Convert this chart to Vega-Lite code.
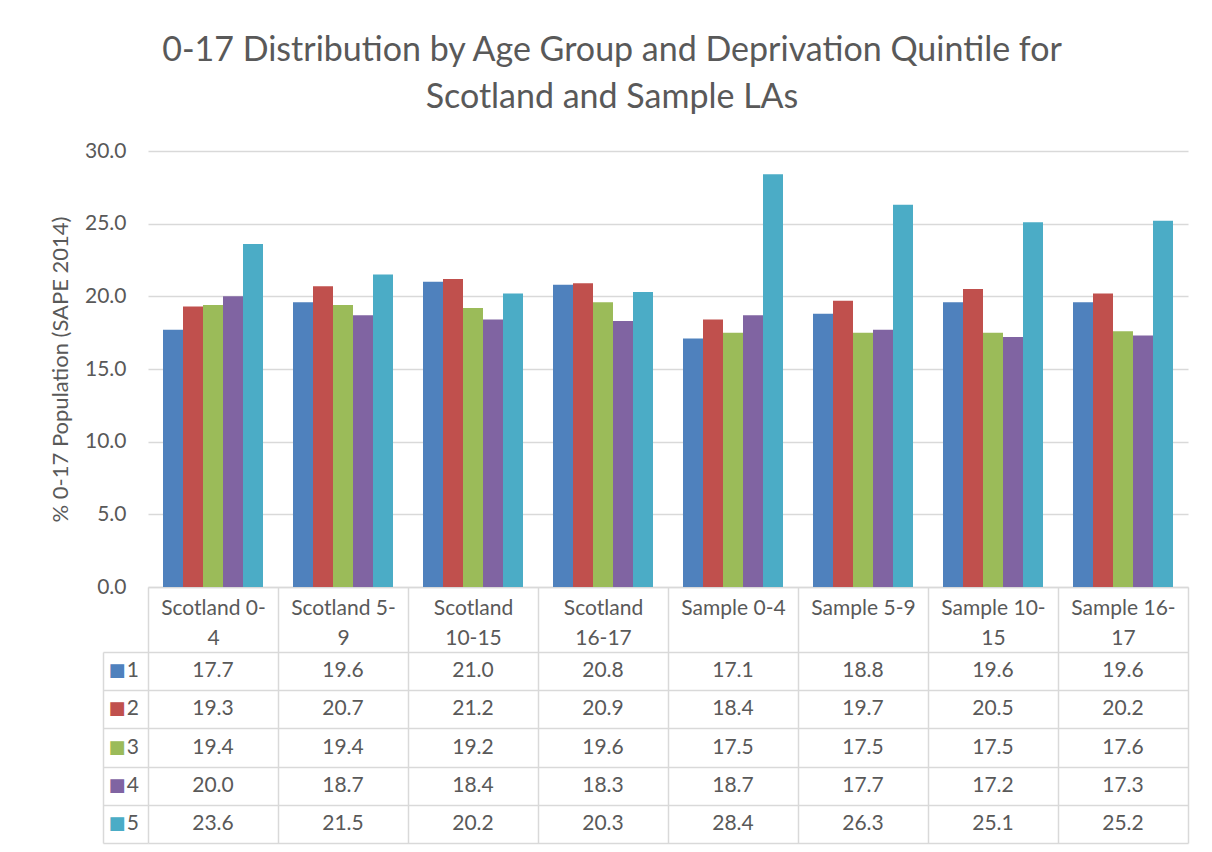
{
  "$schema": "https://vega.github.io/schema/vega-lite/v6.json",
  "background": "white",
  "autosize": {"type": "none"},
  "padding": {"left": 148, "top": 151, "right": 24, "bottom": 9},
  "width": 1040,
  "height": 692,
  "title": {
    "text": ["0-17 Distribution by Age Group and Deprivation Quintile for", "Scotland and Sample LAs"],
    "font": "Lato",
    "fontSize": 34,
    "fontWeight": "normal",
    "color": "#595959",
    "lineHeight": 47,
    "anchor": "middle",
    "dx": -56,
    "offset": 25
  },
  "datasets": {
    "pop": [
      {"group": "Scotland 0-4", "quintile": "1", "pct": 17.7},
      {"group": "Scotland 0-4", "quintile": "2", "pct": 19.3},
      {"group": "Scotland 0-4", "quintile": "3", "pct": 19.4},
      {"group": "Scotland 0-4", "quintile": "4", "pct": 20.0},
      {"group": "Scotland 0-4", "quintile": "5", "pct": 23.6},
      {"group": "Scotland 5-9", "quintile": "1", "pct": 19.6},
      {"group": "Scotland 5-9", "quintile": "2", "pct": 20.7},
      {"group": "Scotland 5-9", "quintile": "3", "pct": 19.4},
      {"group": "Scotland 5-9", "quintile": "4", "pct": 18.7},
      {"group": "Scotland 5-9", "quintile": "5", "pct": 21.5},
      {"group": "Scotland 10-15", "quintile": "1", "pct": 21.0},
      {"group": "Scotland 10-15", "quintile": "2", "pct": 21.2},
      {"group": "Scotland 10-15", "quintile": "3", "pct": 19.2},
      {"group": "Scotland 10-15", "quintile": "4", "pct": 18.4},
      {"group": "Scotland 10-15", "quintile": "5", "pct": 20.2},
      {"group": "Scotland 16-17", "quintile": "1", "pct": 20.8},
      {"group": "Scotland 16-17", "quintile": "2", "pct": 20.9},
      {"group": "Scotland 16-17", "quintile": "3", "pct": 19.6},
      {"group": "Scotland 16-17", "quintile": "4", "pct": 18.3},
      {"group": "Scotland 16-17", "quintile": "5", "pct": 20.3},
      {"group": "Sample 0-4", "quintile": "1", "pct": 17.1},
      {"group": "Sample 0-4", "quintile": "2", "pct": 18.4},
      {"group": "Sample 0-4", "quintile": "3", "pct": 17.5},
      {"group": "Sample 0-4", "quintile": "4", "pct": 18.7},
      {"group": "Sample 0-4", "quintile": "5", "pct": 28.4},
      {"group": "Sample 5-9", "quintile": "1", "pct": 18.8},
      {"group": "Sample 5-9", "quintile": "2", "pct": 19.7},
      {"group": "Sample 5-9", "quintile": "3", "pct": 17.5},
      {"group": "Sample 5-9", "quintile": "4", "pct": 17.7},
      {"group": "Sample 5-9", "quintile": "5", "pct": 26.3},
      {"group": "Sample 10-15", "quintile": "1", "pct": 19.6},
      {"group": "Sample 10-15", "quintile": "2", "pct": 20.5},
      {"group": "Sample 10-15", "quintile": "3", "pct": 17.5},
      {"group": "Sample 10-15", "quintile": "4", "pct": 17.2},
      {"group": "Sample 10-15", "quintile": "5", "pct": 25.1},
      {"group": "Sample 16-17", "quintile": "1", "pct": 19.6},
      {"group": "Sample 16-17", "quintile": "2", "pct": 20.2},
      {"group": "Sample 16-17", "quintile": "3", "pct": 17.6},
      {"group": "Sample 16-17", "quintile": "4", "pct": 17.3},
      {"group": "Sample 16-17", "quintile": "5", "pct": 25.2}
    ]
  },
  "data": {"name": "pop"},
  "resolve": {"scale": {"y": "independent"}, "axis": {"y": "independent"}},
  "layer": [
    {
      "mark": {"type": "bar"},
      "encoding": {
        "x": {
          "field": "group",
          "type": "nominal",
          "sort": null,
          "scale": {"type": "band", "paddingInner": 0, "paddingOuter": 0},
          "axis": {
            "orient": "bottom",
            "offset": -256,
            "title": null,
            "domain": true,
            "domainColor": "#d9d9d9",
            "domainWidth": 1.5,
            "ticks": true,
            "tickBand": "extent",
            "tickSize": 256,
            "tickColor": "#d9d9d9",
            "tickWidth": 1.5,
            "labelAngle": 0,
            "labelAlign": "center",
            "labelBaseline": "middle",
            "labelPadding": -235,
            "labelLineHeight": 30,
            "labelFontSize": 21,
            "labelOverlap": false,
            "labelBound": false,
            "labelFlush": false,
            "labelExpr": "!isValid(datum.value) ? '' : (datum.value == 'Scotland 10-15' || datum.value == 'Scotland 16-17') ? split(datum.value, ' ') : length(datum.value) > 10 ? [slice(datum.value, 0, lastindexof(datum.value, '-') + 1), slice(datum.value, lastindexof(datum.value, '-') + 1)] : datum.value"
          }
        },
        "xOffset": {
          "field": "quintile",
          "type": "nominal",
          "scale": {"paddingInner": 0, "paddingOuter": 0.75}
        },
        "y": {
          "field": "pct",
          "type": "quantitative",
          "scale": {"domain": [0, 30], "range": [436, 0]},
          "axis": {
            "orient": "left",
            "values": [0, 5, 10, 15, 20, 25, 30],
            "format": ".1f",
            "grid": true,
            "gridColor": "#d9d9d9",
            "gridWidth": 1.5,
            "domain": false,
            "ticks": false,
            "labelPadding": 22,
            "labelFontSize": 21,
            "title": "% 0-17 Population (SAPE 2014)",
            "titleFontSize": 22,
            "titlePadding": 12
          }
        },
        "color": {
          "field": "quintile",
          "type": "nominal",
          "scale": {"domain": ["1", "2", "3", "4", "5"], "range": ["#4f81bd", "#c0504d", "#9bbb59", "#8064a2", "#4bacc6"]},
          "legend": null
        }
      }
    },
    {
      "resolve": {"axis": {"y": "independent"}},
      "layer": [
        {
          "mark": {"type": "text", "fontSize": 21, "color": "#595959", "baseline": "middle"},
          "encoding": {
            "x": {
              "field": "group",
              "type": "nominal",
              "sort": null,
              "scale": {"type": "band", "paddingInner": 0, "paddingOuter": 0}
            },
            "y": {
              "field": "quintile",
              "type": "nominal",
              "scale": {"type": "band", "paddingInner": 0, "paddingOuter": 0, "range": [501, 692]},
              "axis": {
                "orient": "left",
                "title": null,
                "grid": true,
                "gridColor": "#d9d9d9",
                "gridWidth": 1.5,
                "tickBand": "extent",
                "ticks": true,
                "tickSize": 45,
                "tickColor": "#d9d9d9",
                "tickWidth": 1.5,
                "domain": false,
                "labels": false
              }
            },
            "text": {"field": "pct", "type": "quantitative", "format": ".1f"}
          }
        },
        {
          "transform": [{"filter": "datum.group == 'Scotland 0-4'"}],
          "mark": {"type": "text", "text": "■", "font": "DejaVu Sans", "fontSize": 18, "dx": -96, "baseline": "middle"},
          "encoding": {
            "x": {"field": "group", "type": "nominal", "sort": null},
            "y": {
              "field": "quintile",
              "type": "nominal",
              "axis": {
                "orient": "left",
                "offset": 45,
                "title": null,
                "domain": true,
                "domainColor": "#d9d9d9",
                "domainWidth": 1.5,
                "labels": false,
                "ticks": false,
                "grid": false
              }
            },
            "color": {"field": "quintile", "type": "nominal", "legend": null}
          }
        },
        {
          "transform": [{"filter": "datum.group == 'Scotland 0-4'"}],
          "mark": {"type": "text", "fontSize": 21, "color": "#595959", "dx": -74, "align": "right", "baseline": "middle"},
          "encoding": {
            "x": {"field": "group", "type": "nominal", "sort": null},
            "y": {"field": "quintile", "type": "nominal", "axis": null},
            "text": {"field": "quintile", "type": "nominal"}
          }
        }
      ]
    }
  ],
  "config": {
    "font": "Lato",
    "view": {"stroke": null},
    "axis": {
      "labelFont": "Lato",
      "titleFont": "Lato",
      "labelColor": "#595959",
      "titleColor": "#595959",
      "titleFontWeight": "normal"
    },
    "text": {"font": "Lato"}
  }
}
